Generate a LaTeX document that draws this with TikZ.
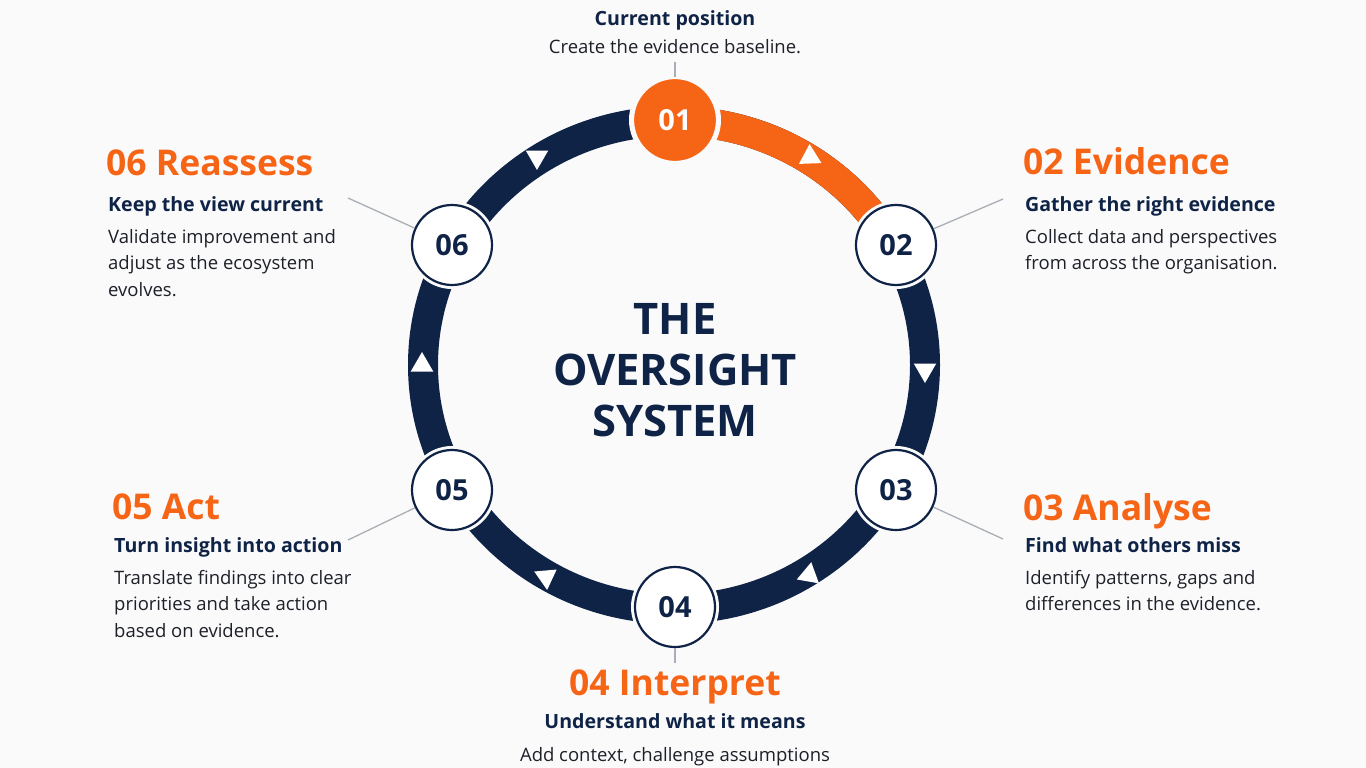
\documentclass[tikz,border=0pt]{standalone}
\usepackage{fontspec}
\setmainfont{Open Sans}

\definecolor{arancio}{RGB}{246,100,22}
\definecolor{blunotte}{RGB}{15,35,70}
\definecolor{testo}{RGB}{30,32,40}
\definecolor{linea}{RGB}{170,175,182}
\definecolor{sfondo}{RGB}{250,250,251}

\tikzset{
  anello/.style={line width=30pt},
  fase/.style={circle, draw=blunotte, line width=2.2pt, fill=white, minimum size=80pt, inner sep=0pt,
    text=blunotte, font=\fontsize{29}{29}\selectfont\bfseries, preaction={draw=sfondo, line width=8pt}},
  titolo/.style={anchor=base west, inner sep=0pt, text=arancio, font=\fontsize{35.5}{35.5}\selectfont\bfseries},
  sottotitolo/.style={anchor=base west, inner sep=0pt, text=blunotte, font=\fontsize{19.6}{19.6}\selectfont\bfseries},
  corpo/.style={anchor=north west, inner sep=0pt, align=left, text=testo, font=\fontsize{18.5}{26.5}\selectfont},
  guida/.style={draw=linea, line width=1.3pt},
}

\begin{document}
\begin{tikzpicture}[x=1pt, y=-1pt]
  \fill[sfondo] (0,0) rectangle (1366,768);
  \useasboundingbox (0,0) rectangle (1366,768);

  % Anello del ciclo
  \draw[anello, blunotte] (674,365) ellipse [x radius=251, y radius=244];
  \draw[anello, arancio] (674,121) arc[start angle=-90, end angle=-28, x radius=251, y radius=244]; % tratto 01 -> 02

  % Frecce bianche sull'anello
  \foreach \x/\y/\r in {537/157/-30, 810/157/-92, 925/370/90, 809/575/-80, 546/577/85, 422/365/-90}
    \fill[white] ([shift={(\r:13)}]\x,\y) -- ([shift={(\r+120:13)}]\x,\y) -- ([shift={(\r-120:13)}]\x,\y) -- cycle;

  % Definizione dei nodi
  \node[fase, fill=arancio, draw=sfondo, minimum size=84pt, text=white] (n01) at (675,120) {01};
  \node[fase] (n02) at (896,245) {02};
  \node[fase] (n03) at (896,490) {03};
  \node[fase] (n04) at (675,607) {04};
  \node[fase] (n05) at (452,490) {05};
  \node[fase] (n06) at (452,245) {06};

  % Titolo centrale
  \node[align=center, inner sep=0pt, text=blunotte, font=\fontsize{43.5}{51}\selectfont\bfseries] (centro) at (675,370)
    {THE\\OVERSIGHT\\SYSTEM};

  % Linee guida verso i testi
  \coordinate (c01) at (675,62);
  \coordinate (c02) at (1003,199);
  \coordinate (c03) at (1003,539);
  \coordinate (c04) at (675,663);
  \coordinate (c05) at (348,540);
  \coordinate (c06) at (348,198);
  \foreach \i in {01,02,03,04,05,06}
    \draw[guida] (n\i) -- (c\i);

  % Testi: 01
  \node[sottotitolo, anchor=base] (s01) at (675,26) {Current position};
  \node[corpo, anchor=base] (b01) at (675,54) {Create the evidence baseline.};

  % Testi: 02
  \node[titolo] (t02) at (1023,174) {02 Evidence};
  \node[sottotitolo] (s02) at (1025,211) {Gather the right evidence};
  \node[corpo] (b02) at (1025,229) {Collect data and perspectives\\from across the organisation.};

  % Testi: 03
  \node[titolo] (t03) at (1023,520) {03 Analyse};
  \node[sottotitolo] (s03) at (1025,552) {Find what others miss};
  \node[corpo] (b03) at (1025,570) {Identify patterns, gaps and\\differences in the evidence.};

  % Testi: 04
  \node[titolo, anchor=base] (t04) at (675,695) {04 Interpret};
  \node[sottotitolo, anchor=base] (s04) at (675,728) {Understand what it means};
  \node[corpo, anchor=base] (b04) at (675,761) {Add context, challenge assumptions};

  % Testi: 05
  \node[titolo] (t05) at (112,519) {05 Act};
  \node[sottotitolo] (s05) at (114,552) {Turn insight into action};
  \node[corpo] (b05) at (114,570) {Translate findings into clear\\priorities and take action\\based on evidence.};

  % Testi: 06
  \node[titolo] (t06) at (106,175) {06 Reassess};
  \node[sottotitolo] (s06) at (108,211) {Keep the view current};
  \node[corpo] (b06) at (108,229) {Validate improvement and\\adjust as the ecosystem\\evolves.};
\end{tikzpicture}
\end{document}
